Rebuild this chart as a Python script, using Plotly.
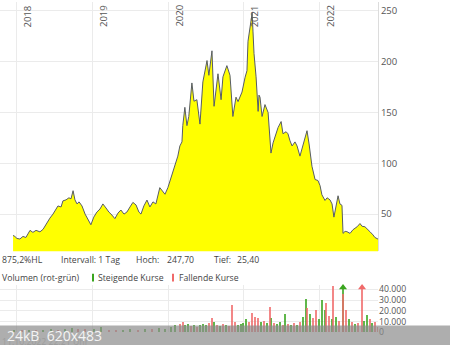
import plotly.graph_objects as go

# ---------------- data ----------------
price_dates = [
    "2017-12-13", "2017-12-22", "2018-01-01", "2018-01-15", "2018-01-30", "2018-02-13",
    "2018-03-05", "2018-03-19", "2018-04-03", "2018-04-22", "2018-05-07", "2018-05-21",
    "2018-06-09", "2018-06-24", "2018-07-08", "2018-07-18", "2018-08-02", "2018-08-11",
    "2018-08-26", "2018-09-09", "2018-09-19", "2018-09-29", "2018-10-08", "2018-10-18",
    "2018-10-28", "2018-11-11", "2018-11-26", "2018-12-10", "2018-12-24",
    "2019-01-07", "2019-01-22", "2019-02-06", "2019-02-20", "2019-03-07", "2019-03-21",
    "2019-04-05", "2019-04-19", "2019-05-04", "2019-05-18", "2019-06-02", "2019-06-16",
    "2019-07-01", "2019-07-15", "2019-07-30", "2019-08-13", "2019-08-23", "2019-09-06",
    "2019-09-21", "2019-10-05", "2019-10-20", "2019-11-03", "2019-11-22", "2019-12-07",
    "2019-12-17", "2019-12-31",
    "2020-01-09", "2020-01-24", "2020-02-03", "2020-02-17", "2020-02-27", "2020-03-08",
    "2020-03-12", "2020-03-22", "2020-04-01", "2020-04-10", "2020-04-25", "2020-05-05",
    "2020-05-19", "2020-06-03", "2020-06-17", "2020-06-27", "2020-07-07", "2020-07-16",
    "2020-07-31", "2020-08-10", "2020-08-24", "2020-08-29", "2020-09-13", "2020-09-22",
    "2020-10-11", "2020-10-26", "2020-11-09", "2020-11-24", "2020-12-04", "2020-12-23",
    "2021-01-07", "2021-01-16", "2021-01-21", "2021-01-31", "2021-02-10", "2021-02-14",
    "2021-02-19", "2021-03-01", "2021-03-11", "2021-03-15", "2021-03-20", "2021-03-30",
    "2021-04-13", "2021-04-28", "2021-05-12", "2021-05-22", "2021-06-01", "2021-06-15",
    "2021-06-30", "2021-07-09", "2021-07-24", "2021-08-02", "2021-08-12", "2021-08-22",
    "2021-09-05", "2021-09-15", "2021-09-29", "2021-10-14", "2021-10-23", "2021-11-02",
    "2021-11-12", "2021-11-26", "2021-12-11", "2021-12-25",
    "2022-01-04", "2022-01-13", "2022-01-28", "2022-02-07", "2022-02-21", "2022-03-03",
    "2022-03-12", "2022-03-27", "2022-04-01", "2022-04-10", "2022-04-20", "2022-04-25",
    "2022-05-05", "2022-05-14", "2022-05-29", "2022-06-12", "2022-07-02", "2022-07-16",
    "2022-07-26", "2022-08-09", "2022-08-24", "2022-09-02", "2022-09-17", "2022-09-26",
    "2022-10-11",
]
price_values = [
    29, 28, 26, 25.5, 28, 27,
    34, 32, 34, 32.5, 35, 40,
    46, 50, 55, 58, 57, 63,
    64, 66, 65, 73, 64, 60,
    62, 58, 50, 44, 39.5,
    47, 52, 55, 60, 56, 52,
    49, 45.5, 51, 54, 50, 52,
    57, 61.5, 59, 52, 50, 58,
    63.8, 57, 62, 60, 76, 72,
    69.5, 76,
    82, 90, 98, 107, 117, 121,
    137, 155, 137, 146, 179, 161,
    162.5, 138.5, 180, 190, 201, 186.5,
    210.6, 156, 185, 188, 162.5, 185,
    196, 186.5, 146, 165, 160.6, 170,
    184.6, 191, 220, 232, 247.7, 230,
    208, 185, 151, 167, 165, 146,
    157.7, 150, 110, 120, 126, 135,
    141, 129, 131, 129, 122, 117,
    121, 117, 107, 118, 125, 132,
    119, 97, 84, 83,
    78, 69, 63.4, 66, 64, 60,
    47, 66, 68, 60, 58.6, 31,
    33, 32.7, 31, 34.6, 37.5, 40.7,
    38, 37.5, 35, 32.7, 29.5, 27,
    25.4,
]
assert len(price_dates) == len(price_values)

vol_dates = [
    "2017-12-20", "2018-01-25", "2018-03-01", "2018-04-05", "2018-05-10", "2018-06-14",
    "2018-07-19", "2018-08-23", "2018-09-27", "2018-10-25", "2018-11-29", "2019-01-10",
    "2019-02-14", "2019-03-21", "2019-04-25", "2019-05-30", "2019-07-04", "2019-08-08",
    "2019-09-12", "2019-10-17", "2019-11-21", "2019-12-19", "2020-01-16", "2020-02-06",
    "2020-02-27", "2020-03-12", "2020-03-26", "2020-04-09", "2020-04-23", "2020-05-07",
    "2020-05-21", "2020-06-04", "2020-06-18", "2020-07-02", "2020-07-16", "2020-07-30",
    "2020-08-13", "2020-08-27", "2020-09-10", "2020-09-24", "2020-10-08", "2020-10-22",
    "2020-11-05", "2020-11-19", "2020-12-03", "2020-12-17", "2020-12-31", "2021-01-14",
    "2021-01-28", "2021-02-11", "2021-02-25", "2021-03-11", "2021-03-25", "2021-04-08",
    "2021-04-22", "2021-05-06", "2021-05-13", "2021-05-27", "2021-06-10", "2021-06-24",
    "2021-07-08", "2021-07-22", "2021-08-05", "2021-08-19", "2021-09-02", "2021-09-16",
    "2021-09-30", "2021-10-14", "2021-10-28", "2021-11-04", "2021-11-18", "2021-12-02",
    "2021-12-16", "2021-12-30", "2022-01-13", "2022-01-27", "2022-02-03", "2022-02-17",
    "2022-03-03", "2022-03-10", "2022-03-24", "2022-04-07", "2022-04-25", "2022-04-28",
    "2022-05-12", "2022-05-26", "2022-06-09", "2022-06-23", "2022-07-07", "2022-07-26",
    "2022-08-04", "2022-08-18", "2022-09-01", "2022-09-15", "2022-09-29", "2022-10-11",
]
vol_values = [
    1500, 1200, 1500, 1300, 1800, 2500,
    2200, 2600, 3200, 2800, 2400, 2600,
    4600, 2200, 2000, 1800, 2400, 2000,
    2600, 2300, 3500, 3000, 5000, 6500,
    7000, 9500, 6000, 7500, 5500, 6500,
    5000, 6000, 7500, 6500, 8000, 13000,
    9000, 6500, 5500, 7000, 6000, 5500,
    25500, 9000, 6000, 7000, 8500, 12000,
    9000, 18000, 14000, 12500, 9000, 10000,
    8000, 23500, 12500, 8000, 7000, 9000,
    6500, 16500, 7000, 6500, 8000, 6500,
    9000, 13800, 31000, 22000, 17000, 13000,
    20000, 12000, 30000, 20000, 27000, 15000,
    12000, 43000, 14000, 10000, 60000, 35000,
    20000, 12000, 9000, 7000, 8000, 60000,
    10000, 16000, 12000, 8000, 9000, 5000,
]
vol_rising = [
    1, 0, 1, 0, 1, 1,
    0, 1, 1, 0, 0, 1,
    1, 0, 0, 1, 1, 0,
    1, 0, 1, 1, 1, 1,
    0, 0, 1, 1, 0, 1,
    0, 1, 1, 1, 0, 0,
    1, 0, 1, 0, 1, 0,
    0, 0, 1, 1, 1, 1,
    0, 0, 0, 0, 1, 0,
    1, 0, 1, 0, 1, 1,
    0, 1, 0, 1, 0, 1,
    0, 1, 1, 0, 1, 0,
    0, 1, 1, 1, 0, 0,
    1, 0, 1, 0, 1, 0,
    0, 1, 0, 1, 0, 0,
    1, 1, 0, 1, 0, 0,
]
assert len(vol_dates) == len(vol_values) == len(vol_rising)

years = ["2018", "2019", "2020", "2021", "2022"]
price_ticks = [50, 100, 150, 200, 250]
vol_ticks = [0, 10000, 20000, 30000, 40000]
vol_top = 43640

GREEN = "#3aa51f"
RED = "#f06a6a"
GRID = "#ebebeb"
TXT = "#444444"
FONT = "Open Sans"

fig = go.Figure()

fig.add_trace(go.Scatter(
    x=price_dates, y=price_values, mode="lines",
    line=dict(color="#575c64", width=1),
    fill="tozeroy", fillcolor="#ffff00",
    xaxis="x", yaxis="y", hoverinfo="skip", showlegend=False,
))

bar_w = 7 * 86400000
for flag, col in ((1, GREEN), (0, RED)):
    xs = [d for d, r in zip(vol_dates, vol_rising) if r == flag]
    ys = [v for v, r in zip(vol_values, vol_rising) if r == flag]
    fig.add_trace(go.Bar(
        x=xs, y=ys, width=bar_w, marker=dict(color=col, line=dict(width=0)),
        opacity=0.8, xaxis="x2", yaxis="y2", showlegend=False, hoverinfo="skip",
    ))
    cx = [d for d, v in zip(xs, ys) if v > vol_top]
    if cx:
        fig.add_trace(go.Scatter(
            x=cx, y=[vol_top * 0.955] * len(cx), mode="markers",
            marker=dict(symbol="triangle-up", size=7, color=col),
            xaxis="x2", yaxis="y2", showlegend=False, hoverinfo="skip",
            cliponaxis=False,
        ))

W, H = 450, 351
xr = ["2017-10-11", "2022-10-11"]
xdom = [0, 378 / W]
year_vals = [f"{y}-01-01" for y in years]

ann = []
for y, v in zip(years, year_vals):
    ann.append(dict(x=v, y=1, xref="x", yref="paper", text=y, textangle=-90,
                    xanchor="left", yanchor="top", xshift=2, yshift=-1, showarrow=False,
                    font=dict(family=FONT, size=9.5, color="#555555")))

def txt(x_px, y_px, s, size=8.7, color=TXT):
    ann.append(dict(x=x_px / W, y=1 - y_px / H, xref="paper", yref="paper", text=s,
                    xanchor="left", yanchor="middle", showarrow=False,
                    font=dict(family=FONT, size=size, color=color)))

txt(0, 264, "875,2%HL")
txt(59, 264, "Intervall: 1 Tag")
txt(134, 264, "Hoch:")
txt(165, 264, "247,70")
txt(212, 264, "Tief:")
txt(235, 264, "25,40")
txt(0, 282, "Volumen (rot-grün)")
txt(96, 282, "Steigende Kurse")
txt(177, 282, "Fallende Kurse")
txt(0, 348, "11.10.2022 22:21 Uhr", size=8.7, color="#9c9c9c")
txt(5, 341, "24kB  620x483", size=14, color="#f4f4f4")

shapes = [
    dict(type="rect", xref="paper", yref="paper", x0=92 / W, x1=94 / W,
         y0=1 - 286 / H, y1=1 - 278 / H, fillcolor=GREEN, line=dict(width=0)),
    dict(type="rect", xref="paper", yref="paper", x0=172 / W, x1=174 / W,
         y0=1 - 286 / H, y1=1 - 278 / H, fillcolor=RED, line=dict(width=0)),
    dict(type="rect", xref="paper", yref="paper", x0=0, x1=1,
         y0=0, y1=20 / H, fillcolor="rgba(140,140,140,0.70)", line=dict(width=0),
         layer="above"),
]

fig.update_layout(
    width=W, height=H, autosize=False,
    margin=dict(l=0, r=0, t=0, b=0),
    paper_bgcolor="white", plot_bgcolor="white",
    separators=",.", bargap=0, barmode="overlay",
    font=dict(family=FONT, color=TXT),
    xaxis=dict(domain=xdom, range=xr, type="date", anchor="y",
               tickvals=year_vals, showticklabels=False, ticks="",
               showgrid=True, gridcolor=GRID, gridwidth=1, zeroline=False),
    xaxis2=dict(domain=xdom, range=xr, type="date", anchor="y2", matches="x",
                tickvals=year_vals, showticklabels=False, ticks="",
                showgrid=True, gridcolor=GRID, gridwidth=1, zeroline=False),
    yaxis=dict(domain=[1 - 255 / H, 1], range=[13.5, 258.6], side="right", anchor="x",
               tickvals=price_ticks, ticks="", showgrid=True, gridcolor=GRID,
               showline=True, linecolor="#dcdcdc", linewidth=1, zeroline=False,
               tickfont=dict(family=FONT, size=9.5, color="#555555")),
    yaxis2=dict(domain=[1 - 338 / H, 1 - 290 / H], range=[0, vol_top], side="right",
                anchor="x2", tickvals=vol_ticks, tickformat=",d", ticks="",
                showgrid=True, gridcolor=GRID, zeroline=False,
                tickfont=dict(family=FONT, size=8.7, color="#555555")),
    annotations=ann, shapes=shapes,
)

fig.write_html("out.html")
